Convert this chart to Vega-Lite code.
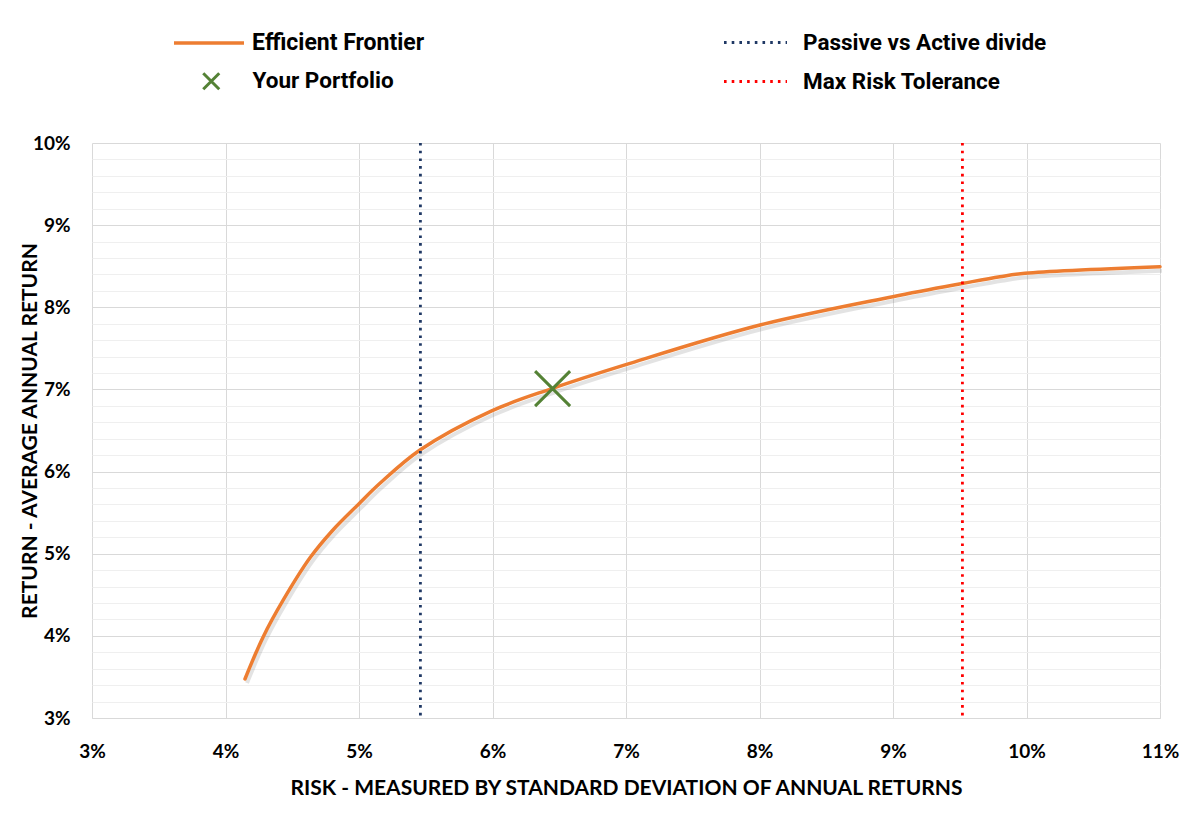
{
  "$schema": "https://vega.github.io/schema/vega-lite/v6.json",
  "width": 1068,
  "height": 575,
  "autosize": "none",
  "padding": {"left": 92, "top": 143, "right": 29, "bottom": 109},
  "background": "white",
  "config": {"view": {"stroke": null}, "font": "Lato"},
  "datasets": {
    "frontier": [
      {"risk": 4.146, "ret": 3.475},
      {"risk": 4.283, "ret": 3.99},
      {"risk": 4.433, "ret": 4.437},
      {"risk": 4.633, "ret": 4.95},
      {"risk": 4.8, "ret": 5.28},
      {"risk": 4.995, "ret": 5.6},
      {"risk": 5.157, "ret": 5.857},
      {"risk": 5.457, "ret": 6.263},
      {"risk": 5.994, "ret": 6.74},
      {"risk": 6.451, "ret": 7.014},
      {"risk": 7.005, "ret": 7.305},
      {"risk": 8.004, "ret": 7.784},
      {"risk": 8.998, "ret": 8.129},
      {"risk": 9.527, "ret": 8.292},
      {"risk": 9.801, "ret": 8.372},
      {"risk": 9.989, "ret": 8.414},
      {"risk": 11.0, "ret": 8.494}
    ],
    "portfolio": [{"risk": 6.45, "ret": 7.01}],
    "passive": [{"risk": 5.46}],
    "maxrisk": [{"risk": 9.52}]
  },
  "resolve": {"axis": {"y": "independent"}},
  "layer": [
    {
      "data": {"name": "frontier"},
      "mark": {"type": "line", "interpolate": "catmull-rom", "strokeWidth": 4, "color": "#7f7f7f", "opacity": 0.22, "xOffset": 2, "yOffset": 4},
      "encoding": {
        "x": {
          "field": "risk", "type": "quantitative",
          "scale": {"domain": [3, 11], "nice": false, "zero": false},
          "axis": {
            "values": [3, 4, 5, 6, 7, 8, 9, 10, 11],
            "labelExpr": "datum.value + '%'", "labelFlush": false,
            "ticks": false, "domainColor": "#d9d9d9", "grid": true, "gridColor": "#d9d9d9",
            "labelFont": "Lato", "labelFontWeight": "bold", "labelFontSize": 19, "labelColor": "#000000",
            "labelPadding": 24,
            "title": "RISK - MEASURED BY STANDARD DEVIATION OF ANNUAL RETURNS",
            "titleFont": "Lato", "titleFontWeight": "bold", "titleFontSize": 21, "titleColor": "#000000",
            "titleY": 70, "titleBaseline": "middle"
          }
        },
        "y": {
          "field": "ret", "type": "quantitative",
          "scale": {"domain": [3, 10], "nice": false, "zero": false},
          "axis": {
            "orient": "right", "title": null, "labels": false, "ticks": false, "domain": false,
            "grid": true, "gridColor": "#efefef", "gridWidth": 1,
            "values": [3.2, 3.4, 3.6, 3.8, 4.2, 4.4, 4.6, 4.8, 5.2, 5.4, 5.6, 5.8, 6.2, 6.4, 6.6, 6.8, 7.2, 7.4, 7.6, 7.8, 8.2, 8.4, 8.6, 8.8, 9.2, 9.4, 9.6, 9.8]
          }
        }
      }
    },
    {
      "data": {"name": "frontier"},
      "mark": {"type": "line", "interpolate": "catmull-rom", "strokeWidth": 3.5, "strokeCap": "round"},
      "encoding": {
        "x": {"field": "risk", "type": "quantitative"},
        "y": {
          "field": "ret", "type": "quantitative",
          "scale": {"domain": [3, 10], "nice": false, "zero": false},
          "axis": {
            "orient": "left",
            "values": [3, 4, 5, 6, 7, 8, 9, 10],
            "labelExpr": "datum.value + '%'",
            "ticks": false, "domain": false, "grid": true, "gridColor": "#d9d9d9",
            "labelFont": "Lato", "labelFontWeight": "bold", "labelFontSize": 19, "labelColor": "#000000",
            "labelPadding": 22,
            "title": "RETURN - AVERAGE ANNUAL RETURN",
            "titleFont": "Lato", "titleFontWeight": "bold", "titleFontSize": 21, "titleColor": "#000000",
            "titleX": -62, "titleY": 287.5, "titleBaseline": "middle"
          }
        },
        "color": {
          "datum": "Efficient Frontier", "type": "nominal",
          "scale": {"range": ["#ED7D31"]},
          "legend": {
            "orient": "none", "legendX": 105, "legendY": -112, "title": null, "padding": 0,
            "symbolType": "M-3.5,0L3.5,0", "symbolSize": 400, "symbolStrokeWidth": 3.5,
            "labelOffset": 31, "labelFont": "Roboto", "labelFontWeight": "bold", "labelLimit": 400,
            "labelFontSize": 23, "labelColor": "#000000"
          }
        }
      }
    },
    {
      "data": {"name": "passive"},
      "mark": {"type": "rule", "color": "#1F3864", "strokeWidth": 2.8},
      "encoding": {
        "x": {"field": "risk", "type": "quantitative"},
        "strokeDash": {
          "datum": "Passive vs Active divide", "type": "nominal",
          "scale": {"range": [[2.6, 5.1]]},
          "legend": {
            "orient": "none", "legendX": 652, "legendY": -112, "title": null, "padding": 0,
            "symbolType": "M-3.15,0L3.15,0", "symbolSize": 400, "symbolStrokeWidth": 2.8,
            "symbolStrokeColor": "#1F3864",
            "labelOffset": 36, "labelFont": "Roboto", "labelFontWeight": "bold", "labelLimit": 400,
            "labelFontSize": 22.5, "labelColor": "#000000"
          }
        }
      }
    },
    {
      "data": {"name": "maxrisk"},
      "mark": {"type": "rule", "strokeWidth": 2.8, "strokeDash": [2.6, 5.1]},
      "encoding": {
        "x": {"field": "risk", "type": "quantitative"},
        "stroke": {
          "datum": "Max Risk Tolerance", "type": "nominal",
          "scale": {"range": ["#FF0000"]},
          "legend": {
            "orient": "none", "legendX": 652, "legendY": -73, "title": null, "padding": 0,
            "symbolType": "M-3.15,0L3.15,0", "symbolSize": 400, "symbolStrokeWidth": 2.8,
            "symbolDash": [2.6, 5.1],
            "labelOffset": 36, "labelFont": "Roboto", "labelFontWeight": "bold", "labelLimit": 400,
            "labelFontSize": 22.5, "labelColor": "#000000"
          }
        }
      }
    },
    {
      "data": {"name": "portfolio"},
      "mark": {"type": "point", "filled": false, "color": "#548235", "strokeWidth": 3, "size": 1225, "opacity": 1},
      "encoding": {
        "x": {"field": "risk", "type": "quantitative"},
        "y": {"field": "ret", "type": "quantitative", "axis": null},
        "shape": {
          "datum": "Your Portfolio", "type": "nominal",
          "scale": {"range": ["M-1,-1L1,1M-1,1L1,-1"]},
          "legend": {
            "orient": "none", "legendX": 108, "legendY": -73, "title": null, "padding": 0,
            "symbolSize": 256, "symbolStrokeWidth": 3, "symbolStrokeColor": "#548235", "symbolFillColor": "transparent",
            "labelOffset": 30, "labelFont": "Roboto", "labelFontWeight": "bold", "labelLimit": 400,
            "labelFontSize": 22.5, "labelColor": "#000000"
          }
        }
      }
    }
  ]
}
